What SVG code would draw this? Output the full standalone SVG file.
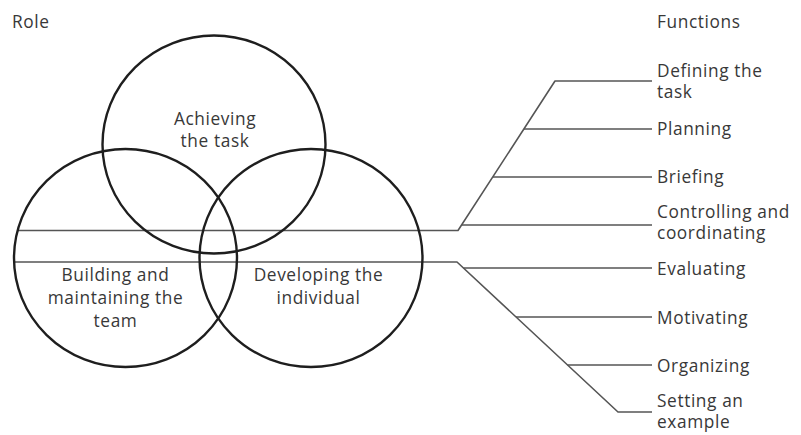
<svg xmlns="http://www.w3.org/2000/svg" width="801" height="435" viewBox="0 0 801 435">
  <style>
    .ring { fill: none; stroke: #1e1e1e; stroke-width: 2.4; }
    .wire { fill: none; stroke: #555; stroke-width: 1.6; stroke-linejoin: round; }
    .lbl { font-family: "Open Sans", "Liberation Sans", sans-serif; font-size: 17.3px; fill: #383838; letter-spacing: 0.6px; }
    .mid { text-anchor: middle; }
  </style>
  <rect width="801" height="435" fill="#fff"/>

  <!-- headings -->
  <g id="heading-role"><text class="lbl" x="12" y="28">Role</text></g>
  <g id="heading-functions"><text class="lbl" x="657" y="28">Functions</text></g>

  <!-- connectors: two rails leaving the Venn diagram, fanning out to the functions -->
  <g id="connectors">
    <!-- upper rail -->
    <path class="wire" d="M17.6 230.5 H458 L555 81 H652"/>
    <path class="wire" d="M524 129 H652"/>
    <path class="wire" d="M493 177 H652"/>
    <path class="wire" d="M462 225 H652"/>
    <!-- lower rail -->
    <path class="wire" d="M14.2 262 H457 L618 412 H652"/>
    <path class="wire" d="M463.4 268 H652"/>
    <path class="wire" d="M516 317 H652"/>
    <path class="wire" d="M567.5 365 H652"/>
  </g>

  <!-- role circles -->
  <g id="role-task">
    <ellipse class="ring" cx="214" cy="144.5" rx="111.5" ry="109"/>
    <text class="lbl mid" x="215" y="125">Achieving</text>
    <text class="lbl mid" x="215" y="147">the task</text>
  </g>
  <g id="role-team">
    <ellipse class="ring" cx="125.5" cy="258" rx="111.5" ry="109"/>
    <text class="lbl mid" x="115.5" y="281">Building and</text>
    <text class="lbl mid" x="115.5" y="304">maintaining the</text>
    <text class="lbl mid" x="115.5" y="327">team</text>
  </g>
  <g id="role-individual">
    <ellipse class="ring" cx="311" cy="258" rx="111.5" ry="109"/>
    <text class="lbl mid" x="318.5" y="281">Developing the</text>
    <text class="lbl mid" x="318.5" y="304">individual</text>
  </g>

  <!-- functions -->
  <g id="fn-defining"><text class="lbl" x="657" y="77">Defining the</text><text class="lbl" x="657" y="98">task</text></g>
  <g id="fn-planning"><text class="lbl" x="657" y="135">Planning</text></g>
  <g id="fn-briefing"><text class="lbl" x="657" y="183">Briefing</text></g>
  <g id="fn-controlling"><text class="lbl" x="657" y="218">Controlling and</text><text class="lbl" x="657" y="239">coordinating</text></g>
  <g id="fn-evaluating"><text class="lbl" x="657" y="275">Evaluating</text></g>
  <g id="fn-motivating"><text class="lbl" x="657" y="324">Motivating</text></g>
  <g id="fn-organizing"><text class="lbl" x="657" y="371.5">Organizing</text></g>
  <g id="fn-setting"><text class="lbl" x="657" y="407">Setting an</text><text class="lbl" x="657" y="428">example</text></g>
</svg>
